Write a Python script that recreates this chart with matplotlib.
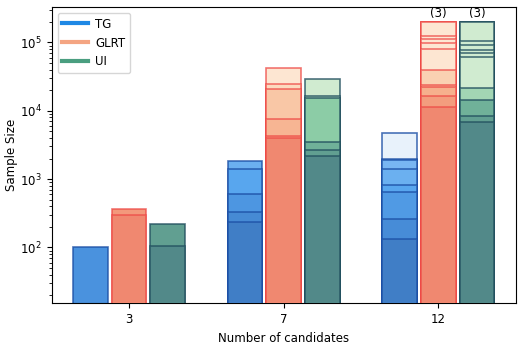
import numpy as np
import matplotlib
matplotlib.use("Agg")
import matplotlib.pyplot as plt
from matplotlib.colors import LinearSegmentedColormap, to_rgba
from matplotlib.lines import Line2D

# ---------------- data ----------------
groups = ["3", "7", "12"]
methods = ["TG", "GLRT", "UI"]
cap = 2e5

tg_values = [
    [100],
    [1828, 1381, 601, 328, 232],
    [4730, 1970, 1880, 1410, 820, 650, 260, 132],
]
glrt_values = [
    [363, 300],
    [42800, 24400, 21100, 7510, 4240, 4050],
    [2e5, 2e5, 2e5, 1.23e5, 1.12e5, 9.9e4, 7.9e4, 3.94e4, 2.36e4, 2.26e4, 1.66e4, 1.12e4],
]
ui_values = [
    [219, 105],
    [29200, 16300, 15600, 3430, 2620, 2160],
    [2e5, 2e5, 2e5, 1.04e5, 9.06e4, 7.85e4, 7.0e4, 6.12e4, 2.18e4, 1.44e4, 8.4e3, 6.8e3],
]

# ---------------- style ----------------
tg_shades = [[0.75], [0.35, 0.5, 0.7, 0.85, 1.0], [0.0, 0.2, 0.25, 0.35, 0.5, 0.65, 0.82, 1.0]]
glrt_shades = [[0.8, 1.0], [0.0, 0.15, 0.35, 0.5, 0.7, 1.0],
               [0, 0, 0, 0, 0, 0, 0, 0.25, 0.4, 0.55, 0.75, 1.0]]
ui_shades = [[0.75, 1.0], [0.0, 0.1, 0.3, 0.55, 0.75, 1.0],
             [0, 0, 0, 0, 0, 0, 0, 0, 0.2, 0.55, 0.75, 1.0]]

def cmap_from(anchors):
    return LinearSegmentedColormap.from_list(
        "c", [(p, tuple(c / 255 for c in rgb)) for p, rgb in anchors])

cmaps = {
    "TG": cmap_from([(0.0, (232, 242, 251)), (0.25, (120, 182, 242)), (0.5, (88, 166, 238)),
                     (0.75, (74, 146, 222)), (1.0, (64, 126, 198))]),
    "GLRT": cmap_from([(0.0, (253, 230, 210)), (0.3, (250, 205, 172)), (0.6, (245, 170, 135)),
                       (1.0, (240, 136, 112))]),
    "UI": cmap_from([(0.0, (208, 235, 208)), (0.3, (140, 204, 166)), (0.6, (106, 172, 150)),
                     (1.0, (82, 137, 137))]),
}
edge_colors = {"TG": to_rgba("#1C50A6", 0.8), "GLRT": to_rgba("#EE4A46", 0.75),
               "UI": to_rgba("#22505F", 0.8)}
legend_colors = {"TG": "#1E88E5", "GLRT": "#F4A582", "UI": "#4A9E80"}

all_values = {"TG": tg_values, "GLRT": glrt_values, "UI": ui_values}
all_shades = {"TG": tg_shades, "GLRT": glrt_shades, "UI": ui_shades}

FS = 8.5
fig = plt.figure(figsize=(5.23, 3.44), dpi=100)
ax = fig.add_axes([0.0989, 0.1183, 0.8872, 0.8614])
ax.set_yscale("log")

width = 0.225
offsets = [-0.25, 0.0, 0.25]
x = np.arange(len(groups))

for mi, m in enumerate(methods):
    for gi in range(len(groups)):
        vals = all_values[m][gi]
        shades = all_shades[m][gi]
        order = np.argsort(vals)[::-1]
        for rank, j in enumerate(order):
            ax.bar(x[gi] + offsets[mi], vals[j], width=width,
                   color=cmaps[m](shades[rank]),
                   edgecolor=edge_colors[m], linewidth=1.2,
                   zorder=2 + rank)
        ncap = sum(1 for v in vals if v >= cap)
        if ncap > 0:
            ax.annotate(f"({ncap})", xy=(x[gi] + offsets[mi], max(vals)),
                        xytext=(0, 1.5), textcoords="offset points",
                        ha="center", va="bottom", fontsize=FS, zorder=30)

ax.set_xlim(-0.5, 2.5)
ax.set_ylim(15.2, 3.3e5)
ax.set_xticks(x)
ax.set_xticklabels(groups, fontsize=FS)
ax.tick_params(axis="y", labelsize=FS)
ax.set_xlabel("Number of candidates", fontsize=FS)
ax.set_ylabel("Sample Size", fontsize=FS, labelpad=1.5)

handles = [Line2D([0], [0], color=legend_colors[m], lw=3) for m in methods]
ax.legend(handles, methods, loc="upper left", fontsize=FS, handlelength=2.2,
          handletextpad=0.6)

fig.savefig("out.png", dpi=100)
